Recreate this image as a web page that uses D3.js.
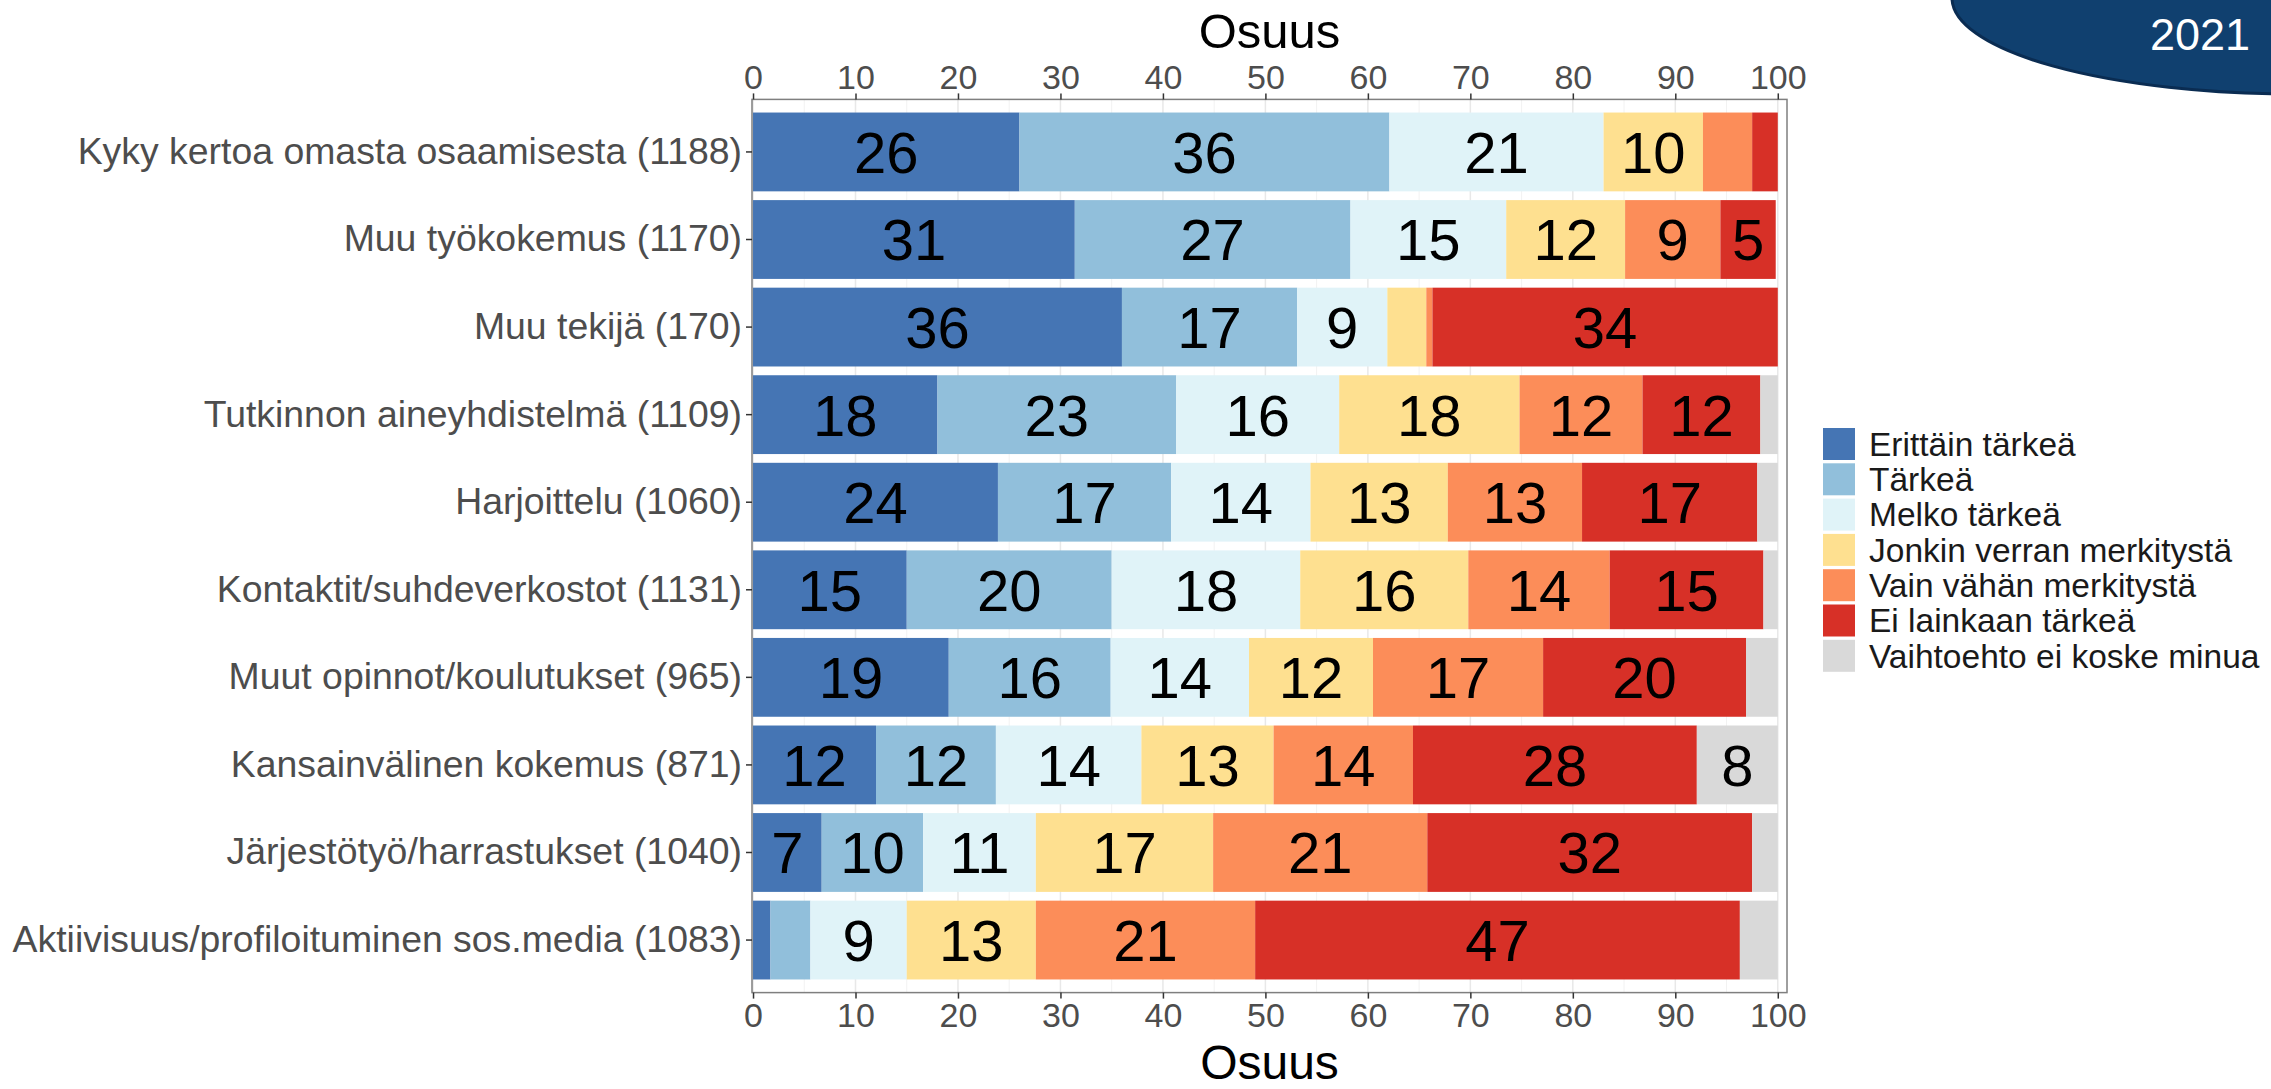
<!DOCTYPE html>
<html>
<head>
<meta charset="utf-8">
<script src="https://cdn.jsdelivr.net/npm/d3@7"></script>
<style>
  html, body { margin: 0; padding: 0; background: #fff; }
  svg { display: block; font-family: "Liberation Sans", Arial, sans-serif; }
</style>
</head>
<body>
<svg id="chart" width="2271" height="1089"></svg>
<script>
// ---------- data ----------
const categories = [
  "Kyky kertoa omasta osaamisesta (1188)",
  "Muu työkokemus (1170)",
  "Muu tekijä (170)",
  "Tutkinnon aineyhdistelmä (1109)",
  "Harjoittelu (1060)",
  "Kontaktit/suhdeverkostot (1131)",
  "Muut opinnot/koulutukset (965)",
  "Kansainvälinen kokemus (871)",
  "Järjestötyö/harrastukset (1040)",
  "Aktiivisuus/profiloituminen sos.media (1083)"
];
const seriesNames = [
  "Erittäin tärkeä",
  "Tärkeä",
  "Melko tärkeä",
  "Jonkin verran merkitystä",
  "Vain vähän merkitystä",
  "Ei lainkaan tärkeä",
  "Vaihtoehto ei koske minua"
];
const seriesColors = ["#4575b4", "#91bfdb", "#e0f3f8", "#fee090", "#fc8d59", "#d73027", "#d9d9d9"];
// percentages per category, one array per series (same order as categories)
const erittainTarkea = [26.0, 31.4, 36.0, 18.0, 23.9, 15.0, 19.1, 12.0, 6.7, 1.7];
const tarkea         = [36.1, 26.9, 17.1, 23.3, 16.9, 20.0, 15.8, 11.7, 9.9, 3.9];
const melkoTarkea    = [20.9, 15.2, 8.8, 15.9, 13.6, 18.4, 13.5, 14.2, 11.0, 9.4];
const jonkinVerran   = [9.7, 11.6, 3.8, 17.6, 13.4, 16.4, 12.1, 12.9, 17.3, 12.6];
const vainVahan      = [4.8, 9.3, 0.6, 12.0, 13.1, 13.8, 16.6, 13.6, 20.9, 21.4];
const eiLainkaan     = [2.5, 5.4, 33.7, 11.5, 17.1, 15.0, 19.8, 27.7, 31.7, 47.3];
const eiKoske        = [0.0, 0.0, 0.0, 1.7, 2.0, 1.4, 3.1, 7.9, 2.5, 3.7];
const xTicks = [0, 10, 20, 30, 40, 50, 60, 70, 80, 90, 100];
const axisTitle = "Osuus";
const badgeText = "2021";

// ---------- build table ----------
const seriesValues = [erittainTarkea, tarkea, melkoTarkea, jonkinVerran, vainVahan, eiLainkaan, eiKoske];
const rows = categories.map((c, i) => {
  const r = { category: c };
  seriesNames.forEach((s, j) => r[s] = seriesValues[j][i]);
  return r;
});
const stacked = d3.stack().keys(seriesNames)(rows);

// ---------- layout ----------
const svg = d3.select("#chart");
const panel = { left: 752, right: 1787, top: 99.4, bottom: 992.6 };

const x = d3.scaleLinear().domain([-0.1, 100.9]).range([panel.left, panel.right]);
const y = d3.scaleBand().domain(categories).range([panel.top, panel.bottom])
  .paddingInner(0.1).paddingOuter(0.15);
const color = d3.scaleOrdinal().domain(seriesNames).range(seriesColors);

// panel background + grid
svg.append("rect").attr("x", panel.left).attr("y", panel.top)
  .attr("width", panel.right - panel.left).attr("height", panel.bottom - panel.top)
  .attr("fill", "#ffffff");
const gridG = svg.append("g");
const minorTicks = d3.range(5, 100, 10);
gridG.selectAll("line.minor").data(minorTicks).join("line")
  .attr("x1", d => x(d)).attr("x2", d => x(d))
  .attr("y1", panel.top).attr("y2", panel.bottom)
  .attr("stroke", "#f2f2f2").attr("stroke-width", 1);
gridG.selectAll("line.major").data(xTicks).join("line")
  .attr("x1", d => x(d)).attr("x2", d => x(d))
  .attr("y1", panel.top).attr("y2", panel.bottom)
  .attr("stroke", "#e8e8e8").attr("stroke-width", 1.5);

// bars
const layers = svg.append("g").selectAll("g").data(stacked).join("g")
  .attr("fill", d => color(d.key));
layers.selectAll("rect").data(d => d).join("rect")
  .attr("x", d => x(d[0]))
  .attr("y", d => y(d.data.category))
  .attr("width", d => Math.max(0, x(d[1]) - x(d[0])))
  .attr("height", y.bandwidth());

// value labels
const labelG = svg.append("g");
stacked.forEach(layer => {
  layer.forEach(d => {
    const v = d.data[layer.key];
    if (v >= 5) {
      labelG.append("text")
        .attr("x", x((d[0] + d[1]) / 2))
        .attr("y", y(d.data.category) + y.bandwidth() / 2)
        .attr("dy", "0.36em")
        .attr("text-anchor", "middle")
        .attr("font-size", 58)
        .attr("fill", "#000")
        .text(Math.round(v));
    }
  });
});

// panel border
svg.append("rect").attr("x", panel.left).attr("y", panel.top)
  .attr("width", panel.right - panel.left).attr("height", panel.bottom - panel.top)
  .attr("fill", "none").attr("stroke", "#7f7f7f").attr("stroke-width", 1.5);

// axes
function styleAxis(g, size) {
  g.select(".domain").remove();
  g.selectAll(".tick line").attr("stroke", "#333").attr("stroke-width", 1.5);
  g.selectAll(".tick text").attr("fill", "#4d4d4d").attr("font-size", size)
    .attr("font-family", "Liberation Sans, Arial, sans-serif");
}
svg.append("g").attr("transform", `translate(0,${panel.top})`)
  .call(d3.axisTop(x).tickValues(xTicks).tickSize(6).tickPadding(4))
  .call(g => styleAxis(g, 34));
svg.append("g").attr("transform", `translate(0,${panel.bottom})`)
  .call(d3.axisBottom(x).tickValues(xTicks).tickSize(6).tickPadding(4))
  .call(g => styleAxis(g, 34));
svg.append("g").attr("transform", `translate(${panel.left},0)`)
  .call(d3.axisLeft(y).tickSize(6).tickPadding(4))
  .call(g => styleAxis(g, 37.4));

// axis titles
const cx = (panel.left + panel.right) / 2;
svg.append("text").attr("x", cx).attr("y", 48).attr("text-anchor", "middle")
  .attr("font-size", 49).attr("fill", "#000").text(axisTitle);
svg.append("text").attr("x", cx).attr("y", 1079).attr("text-anchor", "middle")
  .attr("font-size", 48).attr("fill", "#000").text(axisTitle);

// legend
const legend = svg.append("g").attr("transform", "translate(1823,428)");
const legItems = legend.selectAll("g").data(seriesNames).join("g")
  .attr("transform", (d, i) => `translate(0,${i * 35.3})`);
legItems.append("rect").attr("width", 32).attr("height", 32).attr("fill", d => color(d));
legItems.append("text").attr("x", 46).attr("y", 16).attr("dy", "0.35em")
  .attr("font-size", 33.5).attr("fill", "#1a1a1a").text(d => d);

// badge
svg.append("ellipse").attr("cx", 2295).attr("cy", -2).attr("rx", 343).attr("ry", 96)
  .attr("fill", "#10406f").attr("stroke", "#0a2c52").attr("stroke-width", 3);
svg.append("text").attr("x", 2200).attr("y", 50).attr("text-anchor", "middle")
  .attr("font-size", 45).attr("fill", "#ffffff").text(badgeText);
</script>
</body>
</html>
